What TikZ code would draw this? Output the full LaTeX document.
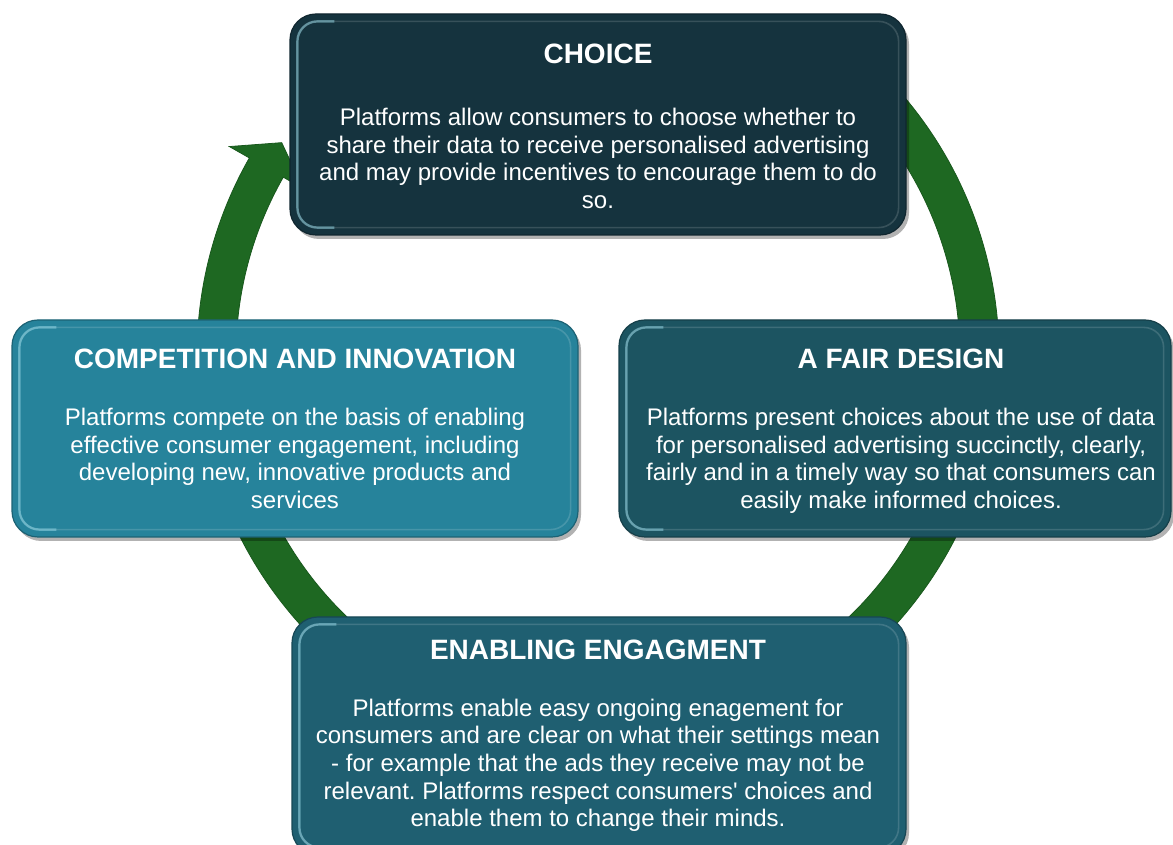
\documentclass[tikz,border=0pt]{standalone}
\usepackage{fontspec}
\setmainfont{Liberation Sans}
\usetikzlibrary{calc,shadows}
\definecolor{ringgreen}{RGB}{30,104,34}
\definecolor{cChoice}{RGB}{21,51,62}
\definecolor{cComp}{RGB}{38,131,155}
\definecolor{cFair}{RGB}{28,84,97}
\definecolor{cEnab}{RGB}{31,95,113}
\definecolor{hlcol}{RGB}{150,215,230}
\tikzset{
  box/.style={rectangle, rounded corners=26pt, inner sep=0pt, fill=#1, draw=#1!75!black, line width=1.2pt,
    drop shadow={shadow xshift=3pt, shadow yshift=-4pt, opacity=0.3, fill=black}},
  rim/.style={draw=white, opacity=0.15, line width=1.6pt, rounded corners=20pt},
  hilite/.style={draw=hlcol, opacity=0.5, line width=2.4pt, rounded corners=20pt},
  ttl/.style={text=white, font=\fontsize{28}{33}\selectfont\bfseries, inner sep=0pt, anchor=base},
  body/.style={text=white, align=center, font=\fontsize{24}{27.6}\selectfont, inner sep=0pt},
  ring/.style={fill=ringgreen, draw=ringgreen!85!black, line width=0.8pt}
}
\newcommand{\bevel}[1]{%
  \draw[rim] ($(#1.south west)+(8,8)$) rectangle ($(#1.north east)+(-8,-8)$);
  \draw[hilite] ($(#1.north west)+(45,-8)$) -- ($(#1.north west)+(8,-8)$) -- ($(#1.south west)+(8,8)$) -- ($(#1.south west)+(45,8)$);
}
\frenchspacing
\begin{document}
\begin{tikzpicture}[x=1pt,y=1pt]
\useasboundingbox (0,0) rectangle (1173,845);
\clip (0,0) rectangle (1173,845);
\coordinate (O) at (598,489);
% cycle ring with arrow head
\path[ring] ($(O)+(52:401pt)$) arc[start angle=52, end angle=-209.6, radius=401pt]
  -- ($(O)+(150.4:424pt)$) -- ($(O)+(146:381.5pt)$) -- ($(O)+(150.4:339pt)$)
  -- ($(O)+(150.4:362pt)$) arc[start angle=150.4, end angle=412, radius=362pt] -- cycle;
% boxes
\node[box=cChoice, minimum width=616pt, minimum height=221pt] (choice) at (598,720.5) {};
\bevel{choice}
\node[box=cComp, minimum width=566pt, minimum height=217pt] (comp) at (295,416.5) {};
\bevel{comp}
\node[box=cFair, minimum width=552pt, minimum height=217pt] (fair) at (895,416.5) {};
\bevel{fair}
\node[box=cEnab, minimum width=614pt, minimum height=238pt] (enab) at (599,109) {};
\bevel{enab}
% texts
\node[ttl] (choiceT) at (598,781.5) {CHOICE};
\node[body] (choiceB) at (598,683.5) {\strut Platforms allow consumers to choose whether to\\
\strut share their data to receive personalised advertising\\
\strut and may provide incentives to encourage them to do\\
\strut so.};
\node[ttl] (compT) at (295,476.5) {COMPETITION AND INNOVATION};
\node[body] (compB) at (295,383.5) {\strut Platforms compete on the basis of enabling\\
\strut effective consumer engagement, including\\
\strut developing new, innovative products and\\
\strut services};
\node[ttl] (fairT) at (901,476.5) {A FAIR DESIGN};
\node[body] (fairB) at (901,383.5) {\strut Platforms present choices about the use of data\\
\strut for personalised advertising succinctly, clearly,\\
\strut fairly and in a timely way so that consumers can\\
\strut easily make informed choices.};
\node[ttl] (enabT) at (598,185.5) {ENABLING ENGAGMENT};
\node[body] (enabB) at (598,79) {\strut Platforms enable easy ongoing enagement for\\
\strut consumers and are clear on what their settings mean\\
\strut - for example that the ads they receive may not be\\
\strut relevant. Platforms respect consumers\textquotesingle{} choices and\\
\strut enable them to change their minds.};
\end{tikzpicture}
\end{document}
